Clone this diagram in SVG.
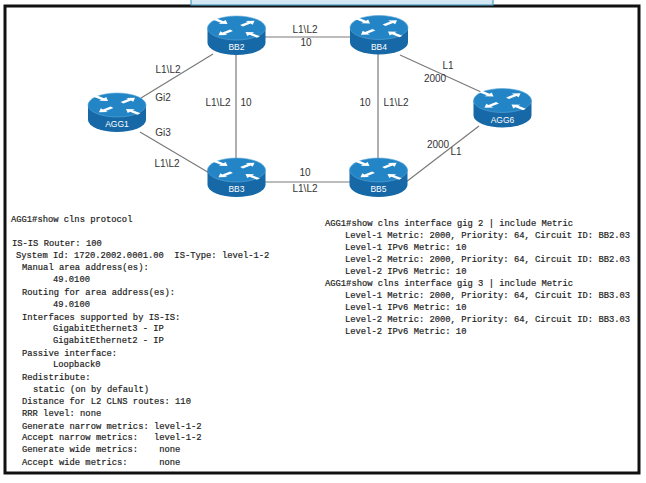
<svg xmlns="http://www.w3.org/2000/svg" xmlns:xlink="http://www.w3.org/1999/xlink" width="646" height="483" viewBox="0 0 646 483">
<style>
.frame{fill:#ffffff;stroke:#111111;stroke-width:3}
.topbox{fill:#d3e8f3;stroke:#4d9cc4;stroke-width:1.2}
.link{stroke:#7a7a7a;stroke-width:1.2;fill:none}
.lbl{font-family:"Liberation Sans",Arial,sans-serif;font-size:10px;fill:#333333;text-anchor:middle}
.rname{font-family:"Liberation Sans",Arial,sans-serif;font-size:8.5px;fill:#ffffff;text-anchor:middle}
.mono{font-family:"Liberation Mono","Courier New",monospace;font-size:8.8px;fill:#1e1e1e;stroke:#1e1e1e;stroke-width:0.2;white-space:pre}
</style>
<defs>
<g id="rtr">
<path d="M-29,-7.5 L-29,7.5 A29,12 0 0 0 29,7.5 L29,-7.5 Z" fill="#1668a6"/>
<ellipse cx="0" cy="-7.5" rx="29" ry="12" fill="#2485c6" stroke="#5aa7d8" stroke-width="0.6"/>
<g transform="translate(0,-7.5) scale(1,0.45)" fill="#ffffff">
<polygon transform="translate(-22,-20) rotate(40)" points="0,-2.2 10,-2.2 10,-5.5 17,0 10,5.5 10,2.2 0,2.2"/>
<polygon transform="translate(22,20) rotate(220)" points="0,-2.2 10,-2.2 10,-5.5 17,0 10,5.5 10,2.2 0,2.2"/>
<polygon transform="translate(5,-5) rotate(-40)" points="0,-2.2 10,-2.2 10,-5.5 17,0 10,5.5 10,2.2 0,2.2"/>
<polygon transform="translate(-5,5) rotate(140)" points="0,-2.2 10,-2.2 10,-5.5 17,0 10,5.5 10,2.2 0,2.2"/>
</g>
</g>
</defs>

<rect class="frame" x="5" y="6" width="634" height="467"/>
<rect class="topbox" x="191" y="-3" width="302" height="8"/>

<g id="connectors">
<line class="link" x1="265" y1="37" x2="350" y2="37"/>
<line class="link" x1="141" y1="98" x2="213" y2="54"/>
<line class="link" x1="140" y1="132" x2="211" y2="174"/>
<line class="link" x1="236" y1="53" x2="236" y2="160"/>
<line class="link" x1="265" y1="182" x2="350" y2="182"/>
<line class="link" x1="378" y1="54" x2="378" y2="160"/>
<line class="link" x1="400" y1="55" x2="481" y2="92"/>
<line class="link" x1="406" y1="182" x2="479" y2="126"/>
<text class="lbl" x="305" y="33">L1\L2</text>
<text class="lbl" x="306" y="46">10</text>
<text class="lbl" x="168" y="73">L1\L2</text>
<text class="lbl" x="163" y="101">Gi2</text>
<text class="lbl" x="163" y="136">Gi3</text>
<text class="lbl" x="167" y="167">L1\L2</text>
<text class="lbl" x="218" y="106">L1\L2</text>
<text class="lbl" x="246" y="106">10</text>
<text class="lbl" x="305" y="176">10</text>
<text class="lbl" x="305" y="192">L1\L2</text>
<text class="lbl" x="365" y="106">10</text>
<text class="lbl" x="396" y="106">L1\L2</text>
<text class="lbl" x="448" y="69">L1</text>
<text class="lbl" x="435" y="82">2000</text>
<text class="lbl" x="438" y="148">2000</text>
<text class="lbl" x="456" y="155">L1</text>
</g>

<g id="AGG1">
<use href="#rtr" transform="translate(117,112.5)"/>
<text class="rname" x="117" y="127">AGG1</text>
</g>
<g id="BB2">
<use href="#rtr" transform="translate(236.5,35.5)"/>
<text class="rname" x="236.5" y="50">BB2</text>
</g>
<g id="BB3">
<use href="#rtr" transform="translate(236.5,177.5)"/>
<text class="rname" x="236.5" y="192">BB3</text>
</g>
<g id="BB4">
<use href="#rtr" transform="translate(379,35)"/>
<text class="rname" x="379" y="49.5">BB4</text>
</g>
<g id="BB5">
<use href="#rtr" transform="translate(378.5,177.5)"/>
<text class="rname" x="378.5" y="192">BB5</text>
</g>
<g id="AGG6">
<use href="#rtr" transform="translate(502.5,108)"/>
<text class="rname" x="502.5" y="122.5">AGG6</text>
</g>

<g id="protocol-output">
<text class="mono" x="11" y="222">AGG1#show clns protocol</text>
<text class="mono" x="12" y="246">IS-IS Router: 100</text>
<text class="mono" x="16" y="257.5">System Id: 1720.2002.0001.00  IS-Type: level-1-2</text>
<text class="mono" x="22" y="270">Manual area address(es):</text>
<text class="mono" x="53" y="282">49.0100</text>
<text class="mono" x="22" y="295">Routing for area address(es):</text>
<text class="mono" x="53" y="307">49.0100</text>
<text class="mono" x="22" y="320">Interfaces supported by IS-IS:</text>
<text class="mono" x="53" y="331">GigabitEthernet3 - IP</text>
<text class="mono" x="53" y="343">GigabitEthernet2 - IP</text>
<text class="mono" x="22" y="356">Passive interface:</text>
<text class="mono" x="53" y="367">Loopback0</text>
<text class="mono" x="22" y="380">Redistribute:</text>
<text class="mono" x="33" y="392">static (on by default)</text>
<text class="mono" x="22" y="404">Distance for L2 CLNS routes: 110</text>
<text class="mono" x="22" y="416">RRR level: none</text>
<text class="mono" x="22" y="429">Generate narrow metrics: level-1-2</text>
<text class="mono" x="22" y="440">Accept narrow metrics:   level-1-2</text>
<text class="mono" x="22" y="452">Generate wide metrics:    none</text>
<text class="mono" x="22" y="465">Accept wide metrics:      none</text>
</g>

<g id="interface-output">
<text class="mono" x="325" y="226">AGG1#show clns interface gig 2 | include Metric</text>
<text class="mono" x="345" y="238">Level-1 Metric: 2000, Priority: 64, Circuit ID: BB2.03</text>
<text class="mono" x="345" y="250">Level-1 IPv6 Metric: 10</text>
<text class="mono" x="345" y="262">Level-2 Metric: 2000, Priority: 64, Circuit ID: BB2.03</text>
<text class="mono" x="345" y="274">Level-2 IPv6 Metric: 10</text>
<text class="mono" x="325" y="286">AGG1#show clns interface gig 3 | include Metric</text>
<text class="mono" x="345" y="298">Level-1 Metric: 2000, Priority: 64, Circuit ID: BB3.03</text>
<text class="mono" x="345" y="310">Level-1 IPv6 Metric: 10</text>
<text class="mono" x="345" y="322">Level-2 Metric: 2000, Priority: 64, Circuit ID: BB3.03</text>
<text class="mono" x="345" y="334">Level-2 IPv6 Metric: 10</text>
</g>
</svg>
